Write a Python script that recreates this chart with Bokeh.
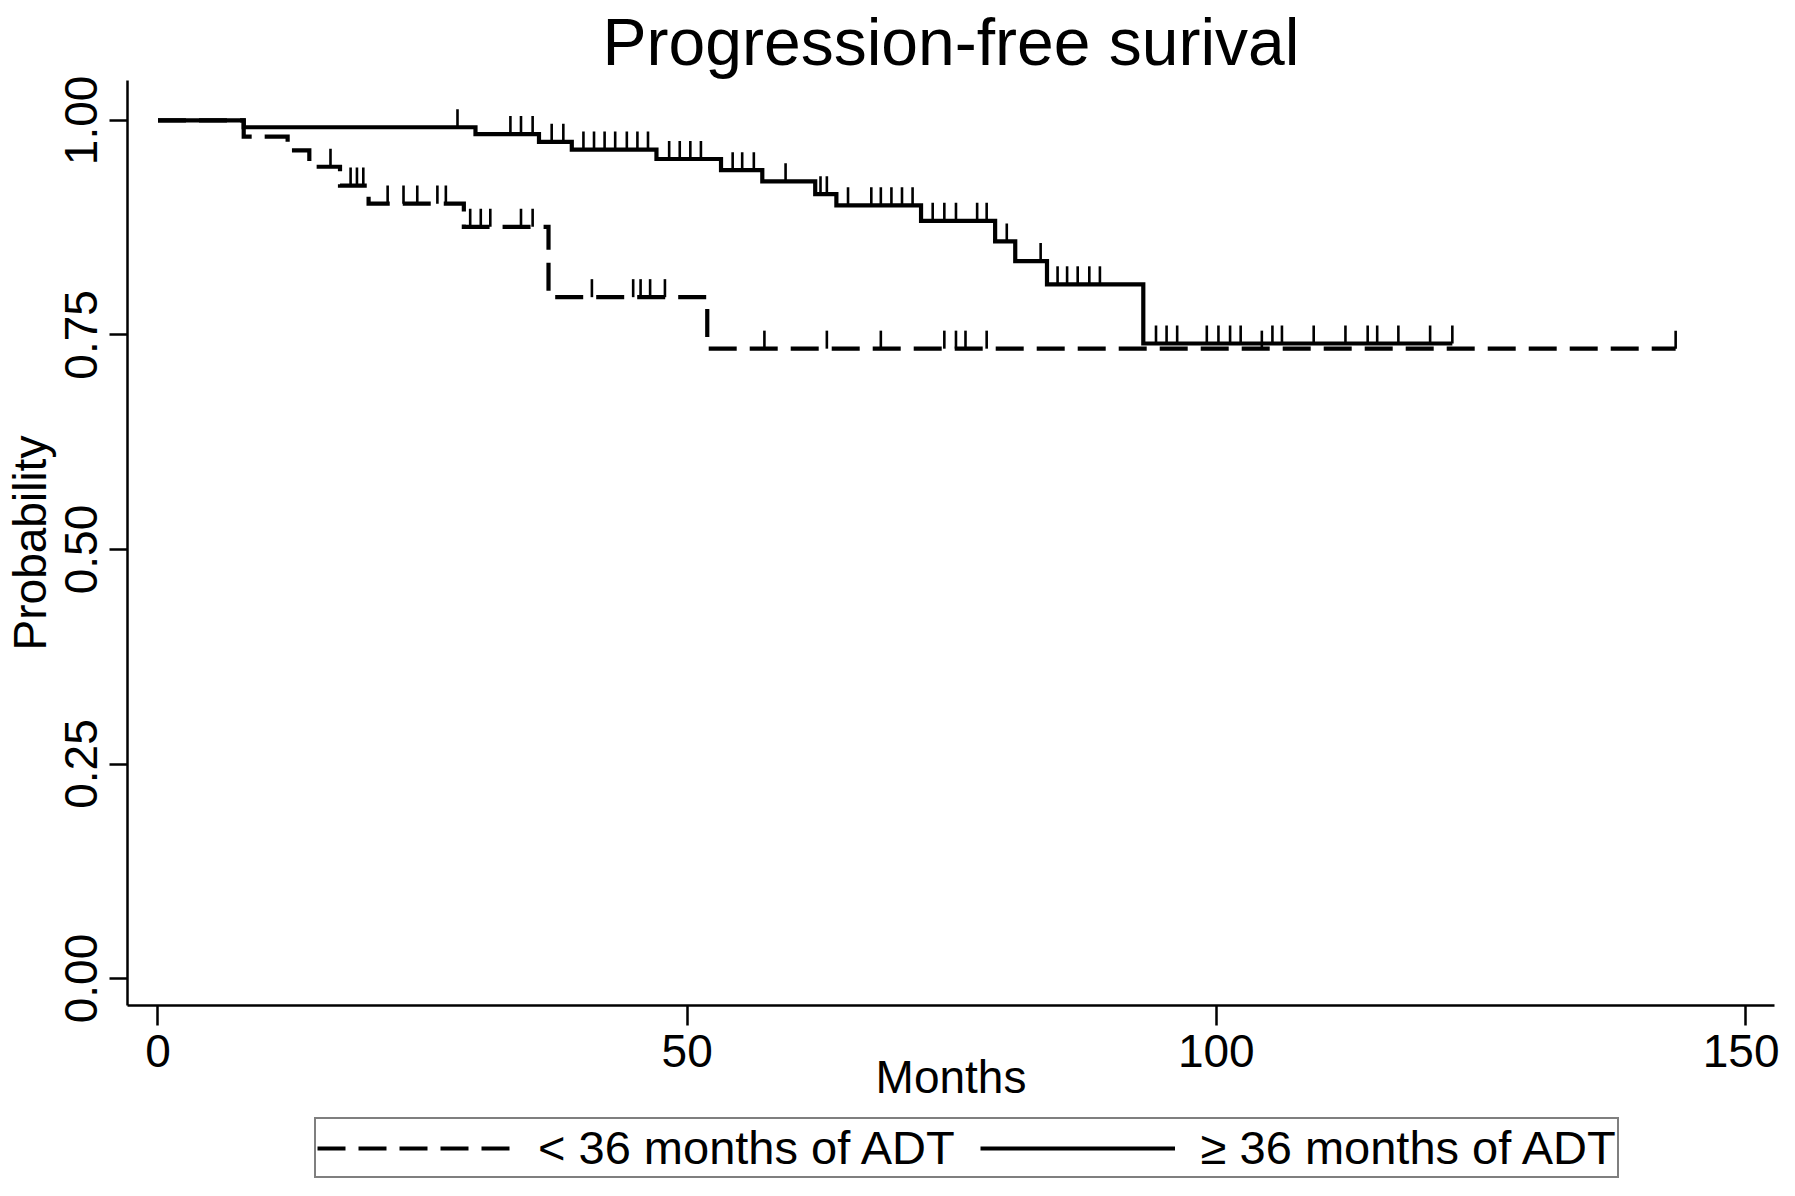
import numpy as np
from bokeh.plotting import figure
from bokeh.layouts import column
from bokeh.models import Range1d, FixedTicker, NumeralTickFormatter, Legend, LegendItem
from bokeh.embed import file_html
from bokeh.resources import INLINE

# ---------------- data ----------------
title_text = "Progression-free surival"
x_label = "Months"
y_label = "Probability"
x_ticks = [0, 50, 100, 150]
y_ticks = [0.0, 0.25, 0.5, 0.75, 1.0]
series_names = ["< 36 months of ADT", "\u2265 36 months of ADT"]

# < 36 months of ADT (dashed): step times and survival
short_t = [0, 8.1, 12.25, 14.3, 17.2, 19.9, 28.9, 36.9, 51.9, 143.4]
short_s = [1.0, 0.981, 0.965, 0.946, 0.924, 0.903, 0.876, 0.794, 0.734, 0.734]
short_cens = [16.3, 18.2, 18.8, 19.4, 21.7, 23.2, 24.5, 26.4, 27.2, 29.5, 30.5,
              31.4, 34.3, 35.4, 41.0, 44.9, 45.6, 46.5, 47.9, 57.3, 63.2, 68.3,
              74.3, 75.4, 76.3, 78.3, 104.3, 143.4]

# >= 36 months of ADT (solid)
long_t = [0, 8.1, 30.0, 36.0, 39.1, 47.1, 53.2, 57.1, 62.1, 64.1, 72.1, 79.1,
          81.0, 84.0, 93.1, 122.3]
long_s = [1.0, 0.992, 0.984, 0.975, 0.966, 0.955, 0.942, 0.929, 0.914, 0.901,
          0.883, 0.859, 0.836, 0.809, 0.740, 0.740]
long_cens = [28.3, 33.3, 34.3, 35.4, 37.2, 38.3, 40.2, 41.2, 42.2, 43.2, 44.3,
             45.3, 46.3, 48.3, 49.3, 50.3, 51.3, 54.3, 55.2, 56.3, 59.3, 62.6,
             63.2, 65.2, 67.4, 68.3, 69.3, 70.3, 71.3, 73.2, 74.3, 75.4, 77.4,
             78.3, 80.2, 83.4, 85.0, 85.9, 86.9, 88.0, 89.0, 94.3, 95.3, 96.3,
             99.1, 100.2, 101.3, 102.3, 105.3, 106.2, 109.2, 112.2, 114.3,
             115.2, 117.2, 120.2, 122.3]

# ---------------- style ----------------
FONT = "Liberation Sans"
TICK_LEN = 0.021   # censor mark height in data units
LINE_W = 4.2
CENS_W = 2.6
DASH = "28 13"

W = 1779
H_MAIN = 1110
H_LEG = 78

p = figure(width=W, height=H_MAIN, output_backend="svg", toolbar_location=None,
           x_range=Range1d(-2.88, 152.74), y_range=Range1d(-0.0314, 1.0465),
           min_border_left=127, min_border_right=5, min_border_top=78,
           min_border_bottom=H_MAIN - 1005)
p.outline_line_color = None
p.xgrid.visible = False
p.ygrid.visible = False
p.background_fill_color = "white"
p.border_fill_color = "white"

p.title.text = title_text
p.title.text_font = FONT
p.title.text_font_size = "66px"
p.title.text_font_style = "normal"
p.title.text_color = "black"
p.title.align = "center"
p.title.offset = 20
p.title.standoff = 4


def censor_levels(times, surv, cens):
    t = np.asarray(times)
    s = np.asarray(surv)
    idx = np.searchsorted(t, np.asarray(cens), side="right") - 1
    return s[idx]


# curves
p.step(short_t, short_s, mode="after", line_color="black",
       line_width=LINE_W, line_dash=DASH, line_join="miter")
p.step(long_t, long_s, mode="after", line_color="black",
       line_width=LINE_W, line_join="miter")

sc = censor_levels(short_t, short_s, short_cens)
p.segment(x0=short_cens, y0=sc, x1=short_cens, y1=sc + TICK_LEN,
          line_color="black", line_width=CENS_W)
lc = censor_levels(long_t, long_s, long_cens)
p.segment(x0=long_cens, y0=lc, x1=long_cens, y1=lc + TICK_LEN,
          line_color="black", line_width=CENS_W)

# axes
for ax in (p.xaxis[0], p.yaxis[0]):
    ax.axis_line_width = 2.5
    ax.axis_line_color = "black"
    ax.major_tick_line_width = 2.5
    ax.major_tick_line_color = "black"
    ax.major_tick_in = 0
    ax.minor_tick_line_color = None
    ax.major_label_text_font = FONT
    ax.major_label_text_font_size = "46px"
    ax.major_label_text_color = "black"
    ax.axis_label_text_font = FONT
    ax.axis_label_text_font_size = "46px"
    ax.axis_label_text_font_style = "normal"
    ax.axis_label_text_color = "black"

p.xaxis[0].ticker = FixedTicker(ticks=x_ticks)
p.xaxis[0].major_tick_out = 20
p.xaxis[0].major_label_standoff = 9
p.xaxis[0].axis_label = x_label
p.xaxis[0].axis_label_standoff = -19

p.yaxis[0].ticker = FixedTicker(ticks=y_ticks)
p.yaxis[0].formatter = NumeralTickFormatter(format="0.00")
p.yaxis[0].major_tick_out = 18
p.yaxis[0].major_label_orientation = "vertical"
p.yaxis[0].major_label_standoff = 12
p.yaxis[0].axis_label = y_label
p.yaxis[0].axis_label_standoff = 7

# ---------------- legend strip below the chart ----------------
lg = figure(width=W, height=H_LEG, output_backend="svg", toolbar_location=None,
            x_range=Range1d(0, 1), y_range=Range1d(0, 1),
            x_axis_type=None, y_axis_type=None,
            min_border_left=0, min_border_right=0, min_border_top=0,
            min_border_bottom=0)
lg.outline_line_color = None
lg.xgrid.visible = False
lg.ygrid.visible = False
lg.background_fill_color = "white"
lg.border_fill_color = "white"
key_short = lg.line([np.nan], [np.nan], line_color="black", line_width=LINE_W,
                    line_dash=DASH)
key_long = lg.line([np.nan], [np.nan], line_color="black", line_width=LINE_W)

legend = Legend(items=[LegendItem(label=series_names[0], renderers=[key_short]),
                       LegendItem(label=series_names[1], renderers=[key_long])],
                orientation="horizontal", location=(187, 10),
                label_text_font=FONT, label_text_font_size="47px",
                label_text_color="black", glyph_width=195, glyph_height=40,
                label_standoff=26, spacing=25, padding=1, margin=0,
                border_line_color="black", border_line_width=2.5,
                background_fill_color="white", background_fill_alpha=1.0)
lg.add_layout(legend, "center")

layout = column(p, lg, spacing=0)
open("out.html", "w").write(file_html(layout, INLINE))
